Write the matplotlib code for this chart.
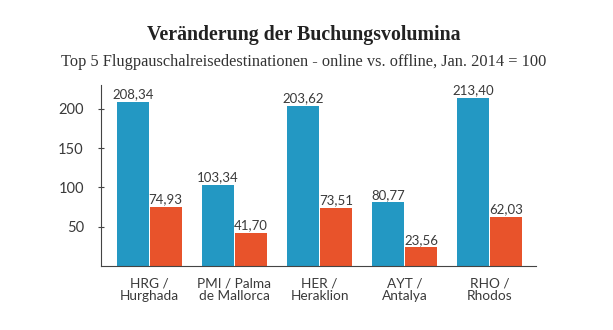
import numpy as np
import matplotlib.pyplot as plt

categories = ["HRG /\nHurghada", "PMI / Palma\nde Mallorca", "HER /\nHeraklion",
              "AYT /\nAntalya", "RHO /\nRhodos"]
online = [208.34, 103.34, 203.62, 80.77, 213.40]
offline = [74.93, 41.70, 73.51, 23.56, 62.03]
yticks = [50, 100, 150, 200]

blue = "#2398c3"
orange = "#e8532b"
sans = "Lato"

fig = plt.figure(figsize=(6.13, 3.30), dpi=100)
ax = fig.add_axes([0.165, 0.194, 0.709, 0.548])

x = np.arange(len(categories))
w = 0.375
b1 = ax.bar(x - w/2 - 0.006, online, w, color=blue)
b2 = ax.bar(x + w/2 + 0.006, offline, w, color=orange)

def fmt(v):
    return ("%.2f" % v).replace(".", ",")

for bars, vals in [(b1, online), (b2, offline)]:
    for r, v in zip(bars, vals):
        ax.text(r.get_x() + r.get_width()/2, v + 2, fmt(v), ha="center", va="bottom",
                fontsize=9.5, family=sans, color="#3a3a3a")

ax.set_xlim(-0.565, 4.54)
ax.set_ylim(0, 230)
ax.set_yticks(yticks)
ax.set_yticklabels([str(t) for t in yticks], family=sans, fontsize=10.5, color="#3a3a3a")
ax.set_xticks(x)
ax.set_xticklabels(categories, family=sans, fontsize=9.8, color="#3a3a3a", linespacing=1.1)
ax.tick_params(axis="x", length=0, pad=8)
ax.tick_params(axis="y", direction="inout", length=5, width=0.8, color="#444444", pad=10)
for s in ["top", "right"]:
    ax.spines[s].set_visible(False)
ax.spines["left"].set_color("#444444")
ax.spines["bottom"].set_color("#444444")
ax.spines["left"].set_linewidth(0.8)
ax.spines["bottom"].set_linewidth(0.8)

fig.text(0.495, 0.893, "Veränderung der Buchungsvolumina", ha="center", va="center",
         family="Liberation Serif", fontweight="bold", fontsize=14.3, color="#222222")
fig.text(0.495, 0.812, "Top 5 Flugpauschalreisedestinationen - online vs. offline, Jan. 2014 = 100",
         ha="center", va="center", family="Liberation Serif", fontsize=11.8, color="#333333")

fig.savefig("out.png", dpi=100)
